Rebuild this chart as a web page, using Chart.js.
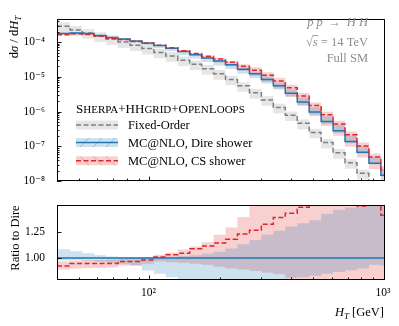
<!DOCTYPE html>
<html><head><meta charset="utf-8">
<script src="https://cdn.jsdelivr.net/npm/chart.js@4/dist/chart.umd.min.js"></script>
<style>
html,body{margin:0;padding:0;background:#fff;}
#wrap{position:relative;width:399px;height:326px;overflow:hidden;background:#fff;}
#top{position:absolute;left:0;top:0;width:399px;height:200px;}
#bot{position:absolute;left:0;top:186px;width:399px;height:140px;}
</style></head><body>
<div id="wrap">
<canvas id="top" width="399" height="200"></canvas>
<canvas id="bot" width="399" height="140"></canvas>
</div>
<script>
// ---------------- data ----------------
const binEdges = [40, 45.5, 51.2, 57.6, 64.8, 72.8, 81.9, 92.0, 103.5, 116.3, 130.8, 147.1, 165.4, 185.9,
  209.1, 235.1, 264.4, 297.2, 334.2, 375.8, 422.6, 475.2, 534.3, 600.8, 675.5, 759.5, 854.1, 960.2, 1080];

// MC@NLO, Dire shower: dsigma/dH_T per bin
const direShower = [1.76e-4, 1.84e-4, 1.76e-4, 1.56e-4, 1.35e-4, 1.22e-4, 1.08e-4, 9.4e-5, 8.0e-5, 6.65e-5,
  5.4e-5, 4.35e-5, 3.5e-5, 2.84e-5, 2.23e-5, 1.65e-5, 1.22e-5, 8.4e-6, 5.5e-6, 3.4e-6,
  1.9e-6, 9.8e-7, 5.2e-7, 2.8e-7, 1.38e-7, 6.8e-8, 3.25e-8, 1.48e-8];
// Dire uncertainty band relative to Dire
const direLoRatio = [0.975, 0.98, 0.975, 0.965, 0.955, 0.945, 0.925, 0.88, 0.85, 0.815,
  0.785, 0.77, 0.76, 0.75, 0.75, 0.75, 0.76, 0.77, 0.78, 0.81,
  0.815, 0.83, 0.85, 0.865, 0.884, 0.90, 0.935, 0.925];
const direHiRatio = [1.083, 1.064, 1.045, 1.025, 1.014, 1.010, 1.008, 1.006, 1.008, 1.012,
  1.018, 1.025, 1.04, 1.06, 1.09, 1.13, 1.17, 1.22, 1.26, 1.30,
  1.33, 1.36, 1.42, 1.46, 1.48, 1.51, 1.54, 1.56];
// MC@NLO, CS shower relative to Dire (central, band low, band high)
const csRatio = [0.923, 0.946, 0.946, 0.946, 0.946, 0.966, 0.966, 0.98, 1.009, 1.031,
  1.045, 1.088, 1.114, 1.142, 1.179, 1.227, 1.264, 1.321, 1.386, 1.426,
  1.483, 1.53, 1.56, 1.58, 1.55, 1.494, 1.51, 1.406];
const csLoRatio = [0.89, 0.90, 0.905, 0.905, 0.91, 0.925, 0.93, 0.945, 0.965, 0.96,
  0.955, 0.945, 0.935, 0.915, 0.90, 0.89, 0.875, 0.86, 0.845, 0.78,
  0.76, 0.75, 0.74, 0.72, 0.71, 0.70, 0.69, 0.68];
const csHiRatio = [0.965, 0.975, 0.98, 0.98, 0.985, 0.995, 1.0, 1.01, 1.03, 1.05,
  1.08, 1.11, 1.15, 1.22, 1.29, 1.39, 1.55, 1.62, 1.70, 1.75,
  1.80, 1.85, 1.90, 1.95, 1.95, 1.90, 1.90, 1.85];
// Fixed-Order dsigma/dH_T and its band (relative factors)
const fixedOrder = [2.86e-4, 2.24e-4, 1.84e-4, 1.49e-4, 1.22e-4, 1.0e-4, 8.1e-5, 6.5e-5, 5.05e-5, 3.97e-5,
  3.02e-5, 2.3e-5, 1.7e-5, 1.22e-5, 8.4e-6, 5.5e-6, 3.5e-6, 2.15e-6, 1.32e-6, 7.9e-7,
  4.6e-7, 2.5e-7, 1.28e-7, 6.5e-8, 3.35e-8, 1.67e-8, 8.3e-9, 4.0e-9];
const fixedOrderLo = [0.66, 0.67, 0.68, 0.68, 0.68, 0.68, 0.68, 0.68, 0.68, 0.68,
  0.68, 0.68, 0.68, 0.68, 0.68, 0.68, 0.68, 0.68, 0.68, 0.68,
  0.68, 0.68, 0.68, 0.68, 0.68, 0.68, 0.68, 0.68];
const fixedOrderHi = [1.30, 1.30, 1.29, 1.29, 1.28, 1.28, 1.28, 1.28, 1.28, 1.28,
  1.28, 1.28, 1.28, 1.28, 1.28, 1.28, 1.28, 1.28, 1.28, 1.28,
  1.28, 1.28, 1.28, 1.28, 1.28, 1.28, 1.28, 1.28];

// ticks
const xTickValues = [100, 1000];
const xTickLabels = ['10\u00B2', '10\u00B3'];
const yTickValues = [1e-8, 1e-7, 1e-6, 1e-5, 1e-4];
const yTickLabels = ['10\u207B\u2078', '10\u207B\u2077', '10\u207B\u2076', '10\u207B\u2075', '10\u207B\u2074'];
const ratioTickValues = [1.0, 1.25];
const ratioTickLabels = ['1.00', '1.25'];

// legend / annotations
const legendTitle = [['S', 0], ['HERPA', 1], ['+HH', 0], ['GRID', 1], ['+O', 0], ['PEN', 1], ['L', 0], ['OOPS', 1]];
const seriesLabels = ['Fixed-Order', 'MC@NLO, Dire shower', 'MC@NLO, CS shower'];

// ---------------- styling ----------------
const SERIF = "'Liberation Serif','DejaVu Serif',serif";
const BLUE = '#1f77b4', RED = '#e0262b', GREY = '#7f7f7f';
const BLUE_F = 'rgba(31,119,180,0.22)', RED_F = 'rgba(232,60,60,0.24)', GREY_F = 'rgba(128,128,128,0.2)';

function steps(vals) {
  const pts = [];
  for (let i = 0; i < vals.length; i++) {
    pts.push({x: binEdges[i], y: vals[i]});
    pts.push({x: binEdges[i + 1], y: vals[i]});
  }
  return pts;
}
const mul = (a, b) => a.map((v, i) => v * b[i]);

const csAbs = mul(direShower, csRatio);

function lineDS(data, color, dash, order) {
  return {data, borderColor: color, borderWidth: 1.5, borderDash: dash, pointRadius: 0,
    fill: false, order, tension: 0};
}
function bandDS(data, fillTarget, color, order) {
  return {data, borderColor: 'transparent', borderWidth: 0, backgroundColor: color, pointRadius: 0,
    fill: fillTarget, order, tension: 0};
}

function xInnerTicks(ctx, xs, a) {
  ctx.beginPath();
  for (let e = 1; e <= 3; e++) for (let m = 1; m <= 9; m++) {
    const v = m * Math.pow(10, e);
    if (v <= xs.min * 1.0001 || v > xs.max * 1.0001) continue;
    const px = Math.round(xs.getPixelForValue(v)) - 0.5;
    const len = m === 1 ? 4.5 : 2.5;
    ctx.moveTo(px, a.bottom); ctx.lineTo(px, a.bottom - len);
  }
  ctx.stroke();
}

function runs(ctx, parts, x, y, align) {
  let w = 0;
  parts.forEach(p => { ctx.font = p.f; p.w = ctx.measureText(p.t).width; w += p.w; });
  let cx = align === 'right' ? x - w : (align === 'center' ? x - w / 2 : x);
  parts.forEach(p => { ctx.font = p.f; ctx.fillText(p.t, cx, y + (p.dy || 0)); p.x = cx; cx += p.w; });
  return parts;
}

function hatchBox(ctx, x, y, w, h, fill, dir) {
  ctx.save();
  ctx.fillStyle = fill; ctx.fillRect(x, y, w, h);
  if (dir) {
    ctx.beginPath(); ctx.rect(x, y, w, h); ctx.clip();
    ctx.strokeStyle = 'rgba(110,110,110,0.45)'; ctx.lineWidth = 0.8; ctx.beginPath();
    for (let k = -h; k < w + h; k += 13) {
      if (dir > 0) { ctx.moveTo(x + k, y + h); ctx.lineTo(x + k + h, y); }
      else { ctx.moveTo(x + k, y); ctx.lineTo(x + k + h, y + h); }
    }
    ctx.stroke();
  }
  ctx.restore();
}

const topDecor = {
  id: 'topDecor',
  afterDraw(chart) {
    const ctx = chart.ctx, a = chart.chartArea, xs = chart.scales.x, ys = chart.scales.y;
    ctx.save();
    ctx.strokeStyle = '#000'; ctx.lineWidth = 1;
    ctx.strokeRect(Math.round(a.left) + 0.5, Math.round(a.top) + 0.5,
      Math.round(a.right - a.left) - 1, Math.round(a.bottom - a.top) - 1);
    ctx.lineWidth = 0.9;
    xInnerTicks(ctx, xs, a);
    ctx.beginPath();
    for (let e = -8; e <= -4; e++) for (let m = 1; m <= 9; m++) {
      const v = m * Math.pow(10, e);
      if (v < ys.min * 0.9999 || v > ys.max) continue;
      const py = Math.round(ys.getPixelForValue(v)) + 0.5;
      const len = m === 1 ? 4.5 : 2.5;
      ctx.moveTo(a.left, py); ctx.lineTo(a.left + len, py);
    }
    ctx.stroke();

    // y axis title (rotated)
    ctx.fillStyle = '#000'; ctx.textBaseline = 'alphabetic';
    ctx.save();
    ctx.translate(18, 37); ctx.rotate(-Math.PI / 2);
    runs(ctx, [
      {t: 'd', f: `12.5px ${SERIF}`}, {t: '\u03C3', f: `italic 12.5px ${SERIF}`},
      {t: ' / d', f: `12.5px ${SERIF}`}, {t: 'H', f: `italic 12.5px ${SERIF}`},
      {t: 'T', f: `italic 9px ${SERIF}`, dy: 2.5}], 0, 0, 'center');
    ctx.restore();

    // annotation (top right)
    ctx.fillStyle = '#8c8c8c';
    const R = 368;
    runs(ctx, [{t: 'p', f: `italic 12.5px ${SERIF}`}, {t: ' ', f: `12.5px ${SERIF}`},
      {t: 'p', f: `italic 12.5px ${SERIF}`}, {t: '  \u2192  ', f: `12px ${SERIF}`},
      {t: 'H', f: `italic 12.5px ${SERIF}`}, {t: ' ', f: `12.5px ${SERIF}`},
      {t: 'H', f: `italic 12.5px ${SERIF}`}], R, 26, 'right');
    const sq = runs(ctx, [{t: '\u221A', f: `12.5px ${SERIF}`}, {t: 's', f: `italic 12.5px ${SERIF}`},
      {t: ' = 14 TeV', f: `12.5px ${SERIF}`}], R, 45.5, 'right');
    ctx.strokeStyle = '#8c8c8c'; ctx.lineWidth = 0.8;
    ctx.beginPath(); ctx.moveTo(sq[0].x + sq[0].w - 0.5, 35.5); ctx.lineTo(sq[1].x + sq[1].w + 0.5, 35.5); ctx.stroke();
    runs(ctx, [{t: 'Full SM', f: `12.5px ${SERIF}`}], R, 62, 'right');

    // legend
    ctx.fillStyle = '#000';
    runs(ctx, legendTitle.map(([t, s]) => ({t, f: s ? `11px ${SERIF}` : `13px ${SERIF}`})), 76, 112.5, 'left');
    const ly = [125, 142.5, 160.8];
    const hx = 76, hw = 42, hh = 9;
    hatchBox(ctx, hx, ly[0] - hh / 2, hw, hh, GREY_F, 0);
    hatchBox(ctx, hx, ly[1] - hh / 2, hw, hh, BLUE_F, 1);
    hatchBox(ctx, hx, ly[2] - hh / 2, hw, hh, RED_F, -1);
    const lc = [[GREY, [5, 2.5]], [BLUE, []], [RED, [5, 2.5]]];
    for (let i = 0; i < 3; i++) {
      ctx.save(); ctx.strokeStyle = lc[i][0]; ctx.lineWidth = 1.5; ctx.setLineDash(lc[i][1]);
      ctx.beginPath(); ctx.moveTo(hx, ly[i]); ctx.lineTo(hx + hw, ly[i]); ctx.stroke(); ctx.restore();
      ctx.font = `12.5px ${SERIF}`; ctx.fillStyle = '#000';
      ctx.fillText(seriesLabels[i], 128, ly[i] + 4);
    }
    ctx.restore();
  }
};

const botDecor = {
  id: 'botDecor',
  afterDraw(chart) {
    const ctx = chart.ctx, a = chart.chartArea, xs = chart.scales.x, ys = chart.scales.y;
    ctx.save();
    ctx.strokeStyle = '#000'; ctx.lineWidth = 1;
    ctx.strokeRect(Math.round(a.left) + 0.5, Math.round(a.top) + 0.5,
      Math.round(a.right - a.left) - 1, Math.round(a.bottom - a.top) - 1);
    ctx.lineWidth = 0.9;
    xInnerTicks(ctx, xs, a);
    ctx.beginPath();
    ratioTickValues.forEach(v => {
      const py = Math.round(ys.getPixelForValue(v)) + 0.5;
      ctx.moveTo(a.left, py); ctx.lineTo(a.left + 4.5, py);
    });
    ctx.stroke();
    ctx.fillStyle = '#000'; ctx.textBaseline = 'alphabetic';
    ctx.save();
    ctx.translate(18.5, 52); ctx.rotate(-Math.PI / 2);
    runs(ctx, [{t: 'Ratio to Dire', f: `12.5px ${SERIF}`}], 0, 0, 'center');
    ctx.restore();
    runs(ctx, [{t: 'H', f: `italic 12.5px ${SERIF}`}, {t: 'T', f: `italic 9px ${SERIF}`, dy: 2.5},
      {t: ' [GeV]', f: `12.5px ${SERIF}`}], 384, 130, 'right');
    ctx.restore();
  }
};

Chart.defaults.font.family = SERIF;
Chart.defaults.color = '#000';

const common = {
  responsive: false, animation: false, devicePixelRatio: 1, events: [],
  plugins: {legend: {display: false}, tooltip: {enabled: false},
    filler: {propagate: false, drawTime: 'beforeDatasetsDraw'}}
};

new Chart(document.getElementById('top'), {
  type: 'line',
  data: {datasets: [
    lineDS(steps(csAbs), RED, [5, 2.5], 0),
    lineDS(steps(direShower), BLUE, [], 1),
    lineDS(steps(fixedOrder), GREY, [5, 2.5], 2),
    bandDS(steps(mul(direShower, direHiRatio)), 4, BLUE_F, 3),
    bandDS(steps(mul(direShower, direLoRatio)), false, BLUE_F, 3),
    bandDS(steps(mul(direShower, csHiRatio)), 6, RED_F, 4),
    bandDS(steps(mul(direShower, csLoRatio)), false, RED_F, 4),
    bandDS(steps(mul(fixedOrder, fixedOrderHi)), 8, GREY_F, 5),
    bandDS(steps(mul(fixedOrder, fixedOrderLo)), false, GREY_F, 5)
  ]},
  options: Object.assign({}, common, {
    layout: {padding: {left: 0, right: 14, top: 8, bottom: 15}},
    scales: {
      x: {type: 'logarithmic', display: false, min: 40, max: 1000, bounds: 'data'},
      y: {type: 'logarithmic', min: 1e-8, max: 4.65e-4, bounds: 'data',
        grid: {display: false, drawTicks: false, tickLength: 0}, border: {display: false},
        afterBuildTicks: s => { s.ticks = yTickValues.map(v => ({value: v})); },
        afterFit: s => { s.width = 57; },
        ticks: {autoSkip: false, padding: 12, font: {family: SERIF, size: 11.5}, color: '#000',
          callback: v => { const i = yTickValues.findIndex(t => Math.abs(t - v) / t < 1e-6); return i >= 0 ? yTickLabels[i] : ''; }}}
    }
  }),
  plugins: [topDecor]
});

new Chart(document.getElementById('bot'), {
  type: 'line',
  data: {datasets: [
    lineDS(steps(csRatio), RED, [5, 2.5], 0),
    lineDS(steps(direShower.map(v => v / v)), BLUE, [], 1),
    bandDS(steps(direHiRatio), 3, BLUE_F, 2),
    bandDS(steps(direLoRatio), false, BLUE_F, 2),
    bandDS(steps(csHiRatio), 5, RED_F, 3),
    bandDS(steps(csLoRatio), false, RED_F, 3)
  ]},
  options: Object.assign({}, common, {
    layout: {padding: {left: 0, right: 14, top: 10, bottom: 6}},
    scales: {
      x: {type: 'logarithmic', min: 40, max: 1000, bounds: 'data',
        grid: {display: false, drawTicks: false, tickLength: 0}, border: {display: false},
        afterBuildTicks: s => { s.ticks = xTickValues.map(v => ({value: v})); },
        afterFit: s => { s.height = 40; },
        ticks: {autoSkip: false, maxRotation: 0, padding: 6, labelOffset: -2, font: {family: SERIF, size: 11.5}, color: '#000',
          callback: v => { const i = xTickValues.indexOf(v); return i >= 0 ? xTickLabels[i] : ''; }}},
      y: {type: 'linear', min: 0.79, max: 1.505, bounds: 'data',
        grid: {display: false, drawTicks: false, tickLength: 0}, border: {display: false},
        afterBuildTicks: s => { s.ticks = ratioTickValues.map(v => ({value: v})); },
        afterFit: s => { s.width = 57; },
        ticks: {autoSkip: false, padding: 12, font: {family: SERIF, size: 11.5}, color: '#000',
          callback: v => { const i = ratioTickValues.indexOf(v); return i >= 0 ? ratioTickLabels[i] : ''; }}}
    }
  }),
  plugins: [botDecor]
});
</script>
</body></html>
